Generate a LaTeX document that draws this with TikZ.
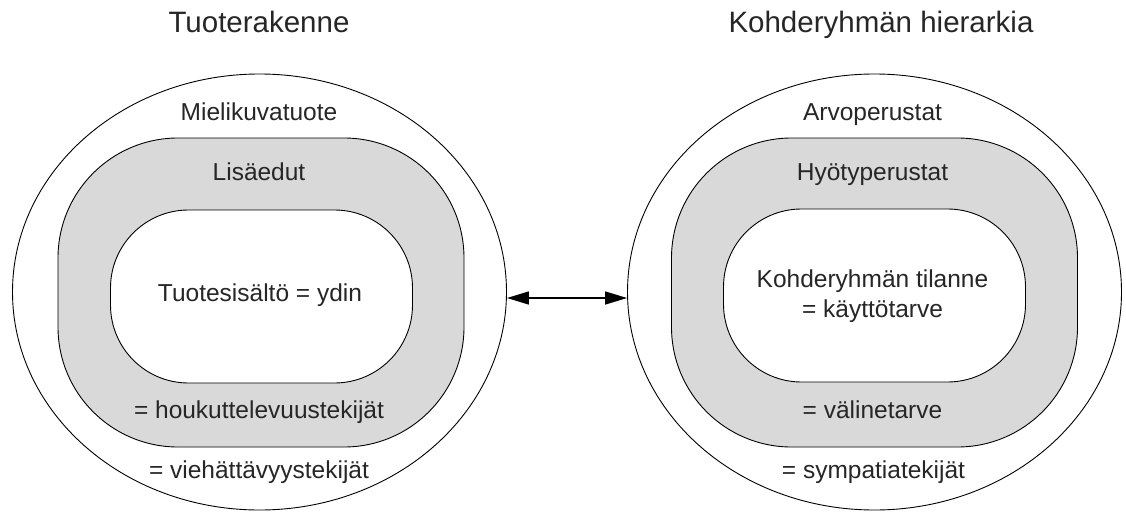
\documentclass[tikz,border=0pt]{standalone}
\usepackage{fontspec}
\setmainfont{Liberation Sans}
\usetikzlibrary{shapes.geometric,arrows.meta}
\definecolor{ringgray}{RGB}{217,217,217}
\definecolor{inktext}{RGB}{38,38,38}
\begin{document}
\begin{tikzpicture}[x=1pt,y=-1pt,
  outerring/.style={draw, ellipse, line width=0.9pt, inner sep=0pt,
    minimum width=494pt, minimum height=436pt},
  midring/.style={draw, fill=ringgray, rectangle, rounded corners=120pt,
    line width=0.9pt, inner sep=0pt, minimum width=406pt, minimum height=309pt},
  coreshape/.style={draw, fill=white, rectangle, rounded corners=78pt,
    line width=0.9pt, inner sep=0pt, minimum width=302pt, minimum height=173pt},
  lbl/.style={font=\fontsize{24.5}{30}\selectfont, text=inktext, inner sep=0pt, anchor=base},
  headtxt/.style={font=\fontsize{29.5}{35}\selectfont, text=inktext, inner sep=0pt, anchor=base},
  link/.style={>={Triangle[length=22pt,width=13pt]}, <->, line width=1.5pt}]
  \useasboundingbox (0,0) rectangle (1126,511);

  % product structure (left)
  \node[outerring] (Lout) at (259.5,292) {};
  \node[midring] (Lmid) at (261,292.5) {};
  \node[coreshape] (Lcore) at (261.5,296.5) {};
  \node[headtxt] (Ltitle) at (259,33) {Tuoterakenne};
  \node[lbl] (Lt1) at (259,120) {Mielikuvatuote};
  \node[lbl] (Lt2) at (259,180) {Lisäedut};
  \node[lbl] (Lt3) at (260,301.5) {Tuotesisältö = ydin};
  \node[lbl] (Lt4) at (259,418) {= houkuttelevuustekijät};
  \node[lbl] (Lt5) at (259,478) {= viehättävyystekijät};

  % target group hierarchy (right)
  \node[outerring] (Rout) at (874.5,292) {};
  \node[midring] (Rmid) at (874.5,292.5) {};
  \node[coreshape] (Rcore) at (874.5,295.5) {};
  \node[headtxt] (Rtitle) at (881,33) {Kohderyhmän hierarkia};
  \node[lbl] (Rt1) at (872.5,120) {Arvoperustat};
  \node[lbl] (Rt2) at (872.5,180) {Hyötyperustat};
  \node[lbl] (Rt3) at (872.5,287) {Kohderyhmän tilanne};
  \node[lbl] (Rt4) at (872.5,317) {= käyttötarve};
  \node[lbl] (Rt5) at (872.5,418) {= välinetarve};
  \node[lbl] (Rt6) at (873.5,478) {= sympatiatekijät};

  % two-way link between the structures
  \draw[link] ([yshift=-6pt]Lout.east) -- ([yshift=-6pt]Rout.west);
\end{tikzpicture}
\end{document}
